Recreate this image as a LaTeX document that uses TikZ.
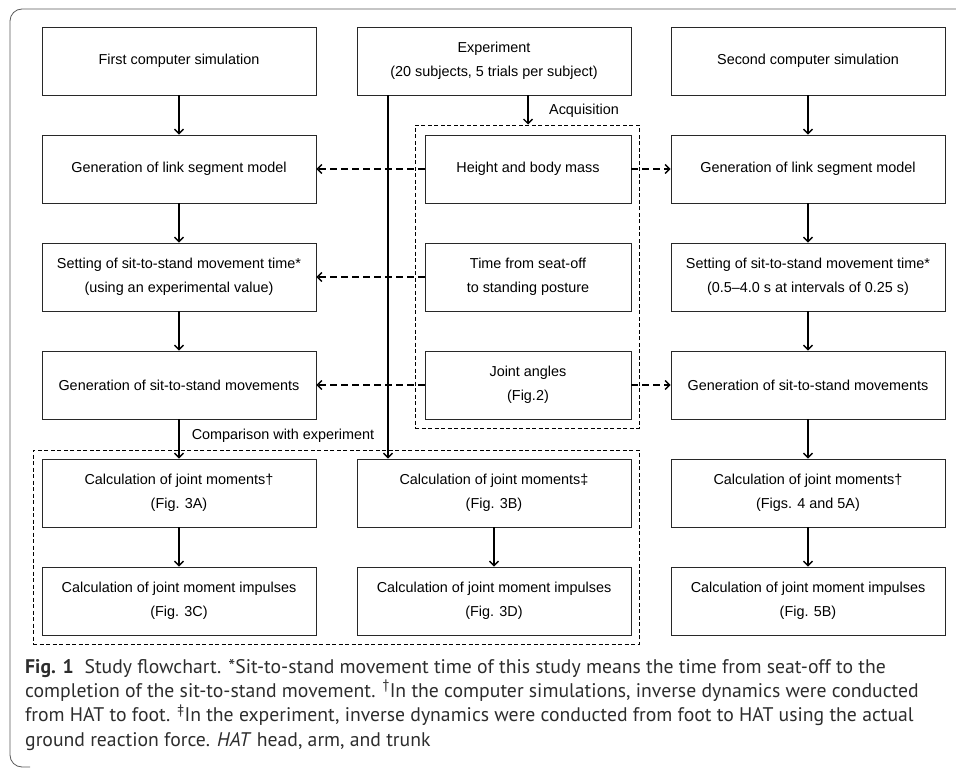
\documentclass[tikz,border=0pt]{standalone}
\usepackage{fontspec}
\setmainfont{Liberation Sans}
\newfontfamily\capfont{PT Sans}
\usepackage{tikz}
\usetikzlibrary{arrows.meta}
\definecolor{frame}{RGB}{90, 90, 90}
\definecolor{boxline}{RGB}{40, 40, 40}
\definecolor{captext}{RGB}{45, 45, 45}

\begin{document}
\begin{tikzpicture}[x=1pt, y=-1pt,
  box/.style={draw=boxline, line width=0.9pt, minimum width=274pt, minimum height=68pt,
    inner sep=0pt, align=center, font=\fontsize{14.4}{24.5}\selectfont},
  narrow/.style={box, minimum width=206pt},
  flow/.style={-{Straight Barb[length=4.5pt, width=9pt]}, line width=1.4pt},
  feed/.style={flow, dash pattern=on 7pt off 4pt},
  group/.style={draw, line width=1pt, dash pattern=on 4pt off 2.5pt, inner sep=0pt},
  note/.style={font=\fontsize{14.4}{16}\selectfont},
  caption/.style={anchor=base west, inner sep=0pt, text=captext, font=\capfont\fontsize{19.7}{24}\selectfont}]
  \useasboundingbox (0,0) rectangle (956,768);
  \draw [frame, line width=0.8pt, rounded corners=12pt] (956,9) -- (10,9) -- (10,767) -- (30,767);

  \node[group, minimum width=224pt, minimum height=303pt] (acq) at (527,276.5) {};
  \node[group, minimum width=606pt, minimum height=194pt] (cmp) at (336,547) {};

  \node[box] (sim1) at (179,61) {First computer simulation};
  \node[box] (gen1) at (179,169) {Generation of link segment model};
  \node[box] (set1) at (179,277) {Setting of sit-to-stand movement time*\\(using an experimental value)};
  \node[box] (mov1) at (179,385) {Generation of sit-to-stand movements};
  \node[box] (mom1) at (179,493) {Calculation of joint moments†\\(Fig. 3A)};
  \node[box] (imp1) at (179,601) {Calculation of joint moment impulses\\(Fig. 3C)};

  \node[box] (exp) at (494,61) {Experiment\\(20 subjects, 5 trials per subject)};
  \node[narrow] (hgt) at (528,169) {Height and body mass};
  \node[narrow] (tim) at (528,277) {Time from seat-off\\to standing posture};
  \node[narrow] (ang) at (528,385) {Joint angles\\(Fig.2)};
  \node[box] (mom2) at (494,493) {Calculation of joint moments‡\\(Fig. 3B)};
  \node[box] (imp2) at (494,601) {Calculation of joint moment impulses\\(Fig. 3D)};

  \node[box] (sim2) at (808,61) {Second computer simulation};
  \node[box] (gen2) at (808,169) {Generation of link segment model};
  \node[box] (set2) at (808,277) {Setting of sit-to-stand movement time*\\(0.5–4.0 s at intervals of 0.25 s)};
  \node[box] (mov2) at (808,385) {Generation of sit-to-stand movements};
  \node[box] (mom3) at (808,493) {Calculation of joint moments†\\(Figs. 4 and 5A)};
  \node[box] (imp3) at (808,601) {Calculation of joint moment impulses\\(Fig. 5B)};

  \node[note] (acqtext) at (584,111) {Acquisition};
  \node[note] (cmptext) at (283,436) {Comparison with experiment};

  \draw[flow] (sim1) -- (gen1);
  \draw[flow] (gen1) -- (set1);
  \draw[flow] (set1) -- (mov1);
  \draw[flow] (mov1) -- (mom1);
  \draw[flow] (mom1) -- (imp1);
  \draw[flow] (mom2) -- (imp2);
  \draw[flow] (sim2) -- (gen2);
  \draw[flow] (gen2) -- (set2);
  \draw[flow] (set2) -- (mov2);
  \draw[flow] (mov2) -- (mom3);
  \draw[flow] (mom3) -- (imp3);
  \draw[flow] (exp.south -| hgt) -- (acq.north -| hgt);

  \draw[feed] (hgt) -- (gen1);
  \draw[feed] (tim) -- (set1);
  \draw[feed] (ang) -- (mov1);
  \draw[feed] (hgt) -- (gen2);
  \draw[feed] (ang) -- (mov2);
  \draw[flow] ([xshift=-106pt]exp.south) -- ([xshift=-106pt]mom2.north);

  \node[caption] (cap1) at (25,673) {\textbf{Fig. 1}\hspace{0.55em}Study flowchart. *Sit-to-stand movement time of this study means the time from seat-off to the};
  \node[caption] (cap2) at (25,697.3) {completion of the sit-to-stand movement. \textsuperscript{†}In the computer simulations, inverse dynamics were conducted};
  \node[caption] (cap3) at (25,721.6) {from HAT to foot. \textsuperscript{‡}In the experiment, inverse dynamics were conducted from foot to HAT using the actual};
  \node[caption] (cap4) at (25,746) {ground reaction force. \textit{HAT} head, arm, and trunk};
\end{tikzpicture}
\end{document}
